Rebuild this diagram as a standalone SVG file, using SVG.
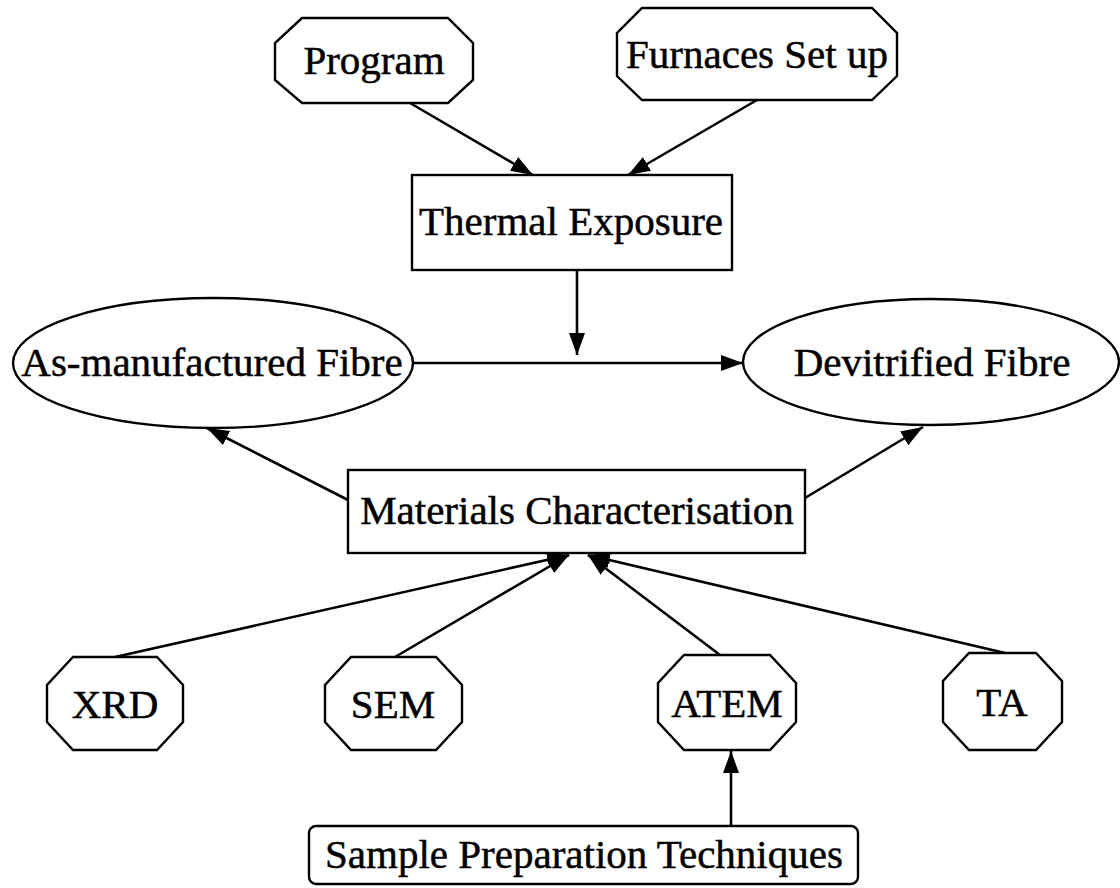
<svg xmlns="http://www.w3.org/2000/svg" width="1120" height="888" viewBox="0 0 1120 888">
<style>
.s{fill:#fff;stroke:#000;stroke-width:2.4}
.t{font-family:"Liberation Serif","Times New Roman",serif;font-size:41px;fill:#000;stroke:#000;stroke-width:0.5;text-anchor:middle}
.e{fill:none;stroke:#000;stroke-width:2.6}
</style>
<defs>
<marker id="a" markerUnits="userSpaceOnUse" markerWidth="26" markerHeight="18" refX="22" refY="8" orient="auto">
<path d="M0,0 L22,8 L0,16 z" fill="#000"/>
</marker>
</defs>
<rect width="1120" height="888" fill="#fff"/>
<g id="connectors">
<line class="e" x1="410" y1="103" x2="533" y2="175" marker-end="url(#a)"/>
<line class="e" x1="757" y1="100" x2="628" y2="175" marker-end="url(#a)"/>
<line class="e" x1="577" y1="270" x2="577" y2="355" marker-end="url(#a)"/>
<line class="e" x1="413" y1="363" x2="743" y2="363" marker-end="url(#a)"/>
<line class="e" x1="348" y1="500" x2="207" y2="428" marker-end="url(#a)"/>
<line class="e" x1="805" y1="498" x2="923" y2="427" marker-end="url(#a)"/>
<line class="e" x1="115" y1="657" x2="569" y2="555" marker-end="url(#a)"/>
<line class="e" x1="395" y1="657" x2="569" y2="555" marker-end="url(#a)"/>
<line class="e" x1="720" y1="655" x2="588" y2="555" marker-end="url(#a)"/>
<line class="e" x1="1005" y1="653" x2="588" y2="555" marker-end="url(#a)"/>
<line class="e" x1="731" y1="826" x2="731" y2="751" marker-end="url(#a)"/>
</g>
<g id="program">
<polygon class="s" points="302,18 448,18 473,43 473,80 448,103 302,103 275,80 275,43"/>
<text class="t" x="374" y="74">Program</text>
</g>
<g id="furnaces">
<polygon class="s" points="642,8 872,8 897,33 897,76 872,100 642,100 617,76 617,33"/>
<text class="t" x="757" y="68">Furnaces Set up</text>
</g>
<g id="thermal">
<rect class="s" x="412" y="175" width="320" height="95"/>
<text class="t" x="571" y="235">Thermal Exposure</text>
</g>
<g id="asmanufactured">
<ellipse class="s" cx="213" cy="363" rx="200" ry="65"/>
<text class="t" x="212" y="376">As-manufactured Fibre</text>
</g>
<g id="devitrified">
<ellipse class="s" cx="931" cy="362" rx="188" ry="63"/>
<text class="t" x="932" y="376">Devitrified Fibre</text>
</g>
<g id="materials">
<rect class="s" x="348" y="470" width="457" height="83"/>
<text class="t" x="577" y="524">Materials Characterisation</text>
</g>
<g id="xrd">
<polygon class="s" points="73,657 157,657 183,685 183,722 157,750 73,750 47,722 47,685"/>
<text class="t" x="115" y="718">XRD</text>
</g>
<g id="sem">
<polygon class="s" points="351,657 436,657 462,685 462,722 436,750 351,750 325,722 325,685"/>
<text class="t" x="393" y="718">SEM</text>
</g>
<g id="atem">
<polygon class="s" points="684,655 770,655 796,683 796,722 770,750 684,750 658,722 658,683"/>
<text class="t" x="727" y="717">ATEM</text>
</g>
<g id="ta">
<polygon class="s" points="969,653 1036,653 1062,681 1062,722 1036,750 969,750 943,722 943,681"/>
<text class="t" x="1002" y="716">TA</text>
</g>
<g id="sample">
<rect class="s" x="309" y="826" width="549" height="58" rx="7"/>
<text class="t" x="584" y="868">Sample Preparation Techniques</text>
</g>
</svg>
